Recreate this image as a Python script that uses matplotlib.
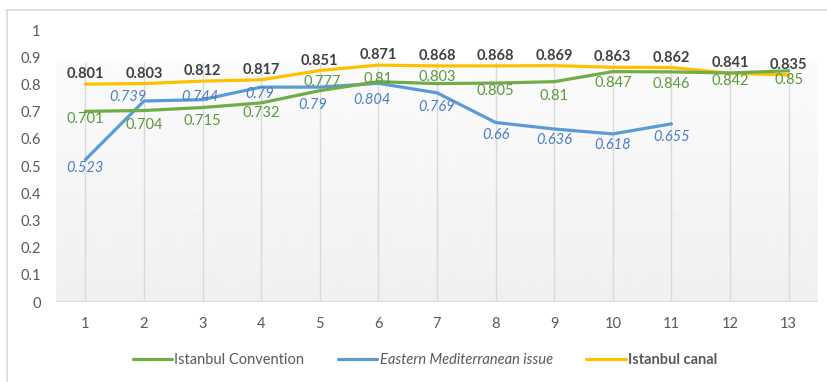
import numpy as np
import matplotlib
matplotlib.use("Agg")
import matplotlib.pyplot as plt
from matplotlib.lines import Line2D

plt.rcParams['font.family'] = ['Lato', 'DejaVu Sans']

# data
months = list(range(1, 14))
convention = [0.701, 0.704, 0.715, 0.732, 0.777, 0.81, 0.803, 0.805, 0.81, 0.847, 0.846, 0.842, 0.85]
mediterranean = [0.523, 0.739, 0.744, 0.79, 0.79, 0.804, 0.769, 0.66, 0.636, 0.618, 0.655, np.nan, np.nan]
canal = [0.801, 0.803, 0.812, 0.817, 0.851, 0.871, 0.868, 0.868, 0.869, 0.863, 0.862, 0.841, 0.835]

# label offsets in pixels (dx, dy), dy positive = up
conv_off = [(0, -8), (0, -14), (0, -13), (0, -10), (2, 9), (0, 3), (0, 7),
            (0, -8), (0, -14), (0, -11), (0, -12), (0, -8), (0, -9)]
med_off = [(0, -8), (-16, 4), (-3, 3), (-1, -7), (-7, -18), (-6, -17), (0, -14),
           (0, -13), (0, -11), (0, -11), (0, -13)]

GREEN = '#70ad47'
BLUE = '#5b9bd5'
YELLOW = '#ffc000'
GREY = '#595959'

fig = plt.figure(figsize=(8.28, 3.82), dpi=100)
W, H = 828, 382
ax = fig.add_axes([56 / W, (H - 302) / H, (818 - 56) / W, (302 - 30) / H])
ax.set_xlim(0.5, 13.5)
ax.set_ylim(0, 1)

# plot area fill, only up to the top of the gridlines
top = 0.882
grad = np.linspace(0.985, 0.94, 200).reshape(-1, 1)
ax.imshow(grad, extent=[0.5, 13.5, 0, top], aspect='auto', cmap='gray',
          vmin=0, vmax=1, zorder=0, origin='upper')
ax.vlines(months, 0, top, color='#d9d9d9', lw=1, zorder=1)
ax.axhline(0, color='#d9d9d9', lw=1.2, zorder=1)

l1, = ax.plot(months, convention, color=GREEN, lw=2.3, zorder=4,
              solid_capstyle='round', label='Istanbul Convention')
l2, = ax.plot(months, mediterranean, color=BLUE, lw=2.3, zorder=3,
              solid_capstyle='round', label='Eastern Mediterranean issue')
l3, = ax.plot(months, canal, color=YELLOW, lw=2.3, zorder=2,
              solid_capstyle='round', label='Istanbul canal')

for x, v in zip(months, canal):
    ax.annotate(f'{v:g}', (x, v), xytext=(0, 10), textcoords='offset pixels',
                ha='center', va='center', fontsize=10.5, fontweight='bold',
                color='#404040', zorder=6)
for x, v, (dx, dy) in zip(months, convention, conv_off):
    ax.annotate(f'{v:g}', (x, v), xytext=(dx, dy), textcoords='offset pixels',
                ha='center', va='center', fontsize=10.5, color='#5b9a3c', zorder=6)
for x, v, (dx, dy) in zip(months, mediterranean, med_off):
    ax.annotate(f'{v:g}', (x, v), xytext=(dx, dy), textcoords='offset pixels',
                ha='center', va='center', fontsize=10.5, style='italic',
                color='#4a7fc4', zorder=6)

for s in ax.spines.values():
    s.set_visible(False)
ax.set_xticks(months)
ax.set_yticks(np.arange(0, 1.01, 0.1))
ax.set_yticklabels([f'{t:g}' for t in np.round(np.arange(0, 1.01, 0.1), 1)])
ax.tick_params(length=0, labelsize=10.5, labelcolor=GREY)
ax.tick_params(axis='y', pad=11)
ax.tick_params(axis='x', pad=11)

leg = fig.legend(handles=[l1, l2, l3], loc='center', ncol=3, frameon=False,
                 bbox_to_anchor=(425 / W, 1 - 360 / H), fontsize=10.5,
                 handlelength=2.7, handletextpad=0.15, columnspacing=2.3)
texts = leg.get_texts()
for t in texts:
    t.set_color(GREY)
texts[1].set_style('italic')
texts[2].set_fontweight('bold')

# chart border (top and left edges)
fig.add_artist(Line2D([7 / W, 1], [1 - 10 / H, 1 - 10 / H], color='#d9d9d9', lw=1.2))
fig.add_artist(Line2D([7 / W, 7 / W], [0, 1 - 10 / H], color='#d9d9d9', lw=1.2))

fig.savefig('out.png', dpi=100)
